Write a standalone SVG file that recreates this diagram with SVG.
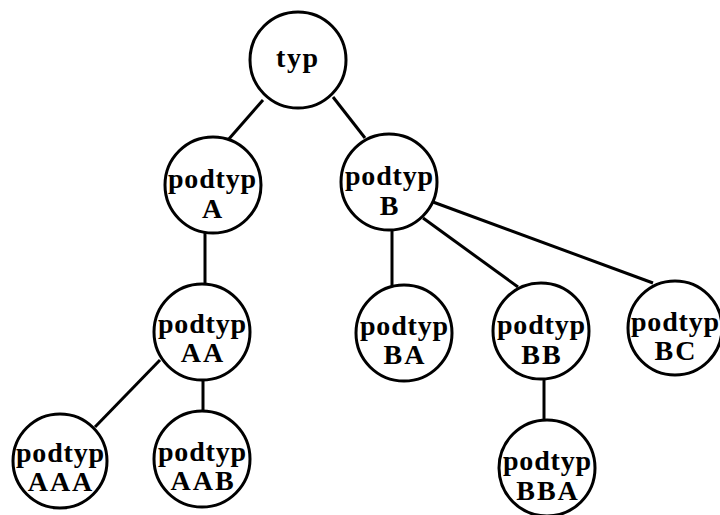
<svg xmlns="http://www.w3.org/2000/svg" width="720" height="515" viewBox="0 0 720 515">
<style>
.e{stroke:#000;stroke-width:3;fill:none}
.n circle{fill:#fff;stroke:#000;stroke-width:3}
.n text{font-family:"Liberation Serif","Times New Roman",serif;font-weight:bold;font-size:28px;text-anchor:middle;fill:#000}
.n text.s{letter-spacing:2px}
</style>
<rect width="720" height="515" fill="#fff"/>
<g id="connectors">
<line class="e" x1="263" y1="100" x2="228" y2="140"/>
<line class="e" x1="333" y1="97" x2="365" y2="138"/>
<line class="e" x1="205" y1="228" x2="205" y2="288"/>
<line class="e" x1="392" y1="226" x2="392" y2="288"/>
<line class="e" x1="423" y1="218" x2="518" y2="287"/>
<line class="e" x1="433" y1="202" x2="653" y2="283"/>
<line class="e" x1="160" y1="360" x2="95" y2="427"/>
<line class="e" x1="203" y1="376" x2="203" y2="415"/>
<line class="e" x1="544" y1="375" x2="544" y2="426"/>
</g>
<g id="typ" class="n"><circle cx="298" cy="60" r="48"/><text x="297" y="67" textLength="42" lengthAdjust="spacing">typ</text></g>
<g id="A" class="n"><circle cx="213" cy="185" r="48"/><text x="212" y="188" textLength="88" lengthAdjust="spacing">podtyp</text><text class="s" x="213" y="218">A</text></g>
<g id="B" class="n"><circle cx="389" cy="182" r="48"/><text x="389" y="185" textLength="88" lengthAdjust="spacing">podtyp</text><text class="s" x="390" y="215">B</text></g>
<g id="AA" class="n"><circle cx="202" cy="332" r="48"/><text x="202" y="333" textLength="88" lengthAdjust="spacing">podtyp</text><text class="s" x="203" y="362">AA</text></g>
<g id="AAA" class="n"><circle cx="60" cy="461" r="47"/><text x="60" y="462" textLength="88" lengthAdjust="spacing">podtyp</text><text class="s" x="61" y="491">AAA</text></g>
<g id="AAB" class="n"><circle cx="202" cy="459" r="48"/><text x="202" y="461" textLength="88" lengthAdjust="spacing">podtyp</text><text class="s" x="203" y="490">AAB</text></g>
<g id="BA" class="n"><circle cx="404" cy="333" r="48"/><text x="404" y="335" textLength="88" lengthAdjust="spacing">podtyp</text><text class="s" x="405" y="364">BA</text></g>
<g id="BB" class="n"><circle cx="541" cy="331" r="48"/><text x="541" y="334" textLength="88" lengthAdjust="spacing">podtyp</text><text class="s" x="542" y="364">BB</text></g>
<g id="BC" class="n"><circle cx="675" cy="328" r="47"/><text x="675" y="331" textLength="88" lengthAdjust="spacing">podtyp</text><text class="s" x="676" y="360">BC</text></g>
<g id="BBA" class="n"><circle cx="547" cy="468" r="48"/><text x="547" y="470" textLength="88" lengthAdjust="spacing">podtyp</text><text class="s" x="548" y="500">BBA</text></g>
</svg>
